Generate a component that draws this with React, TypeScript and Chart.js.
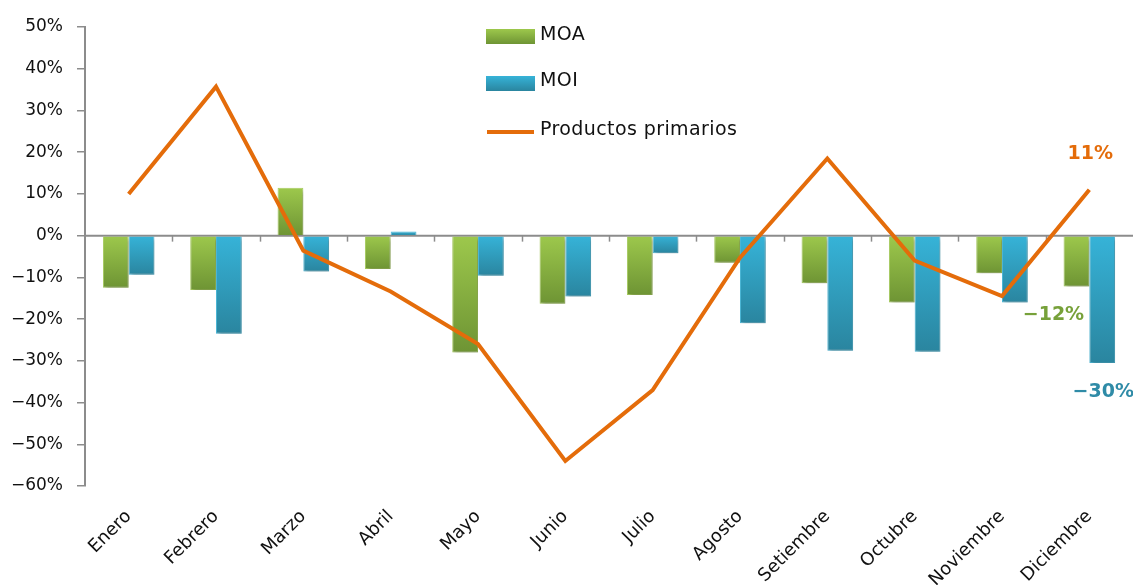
import React, { useEffect, useRef } from "react";
import { Chart, registerables } from "chart.js";

Chart.register(...registerables);

const categories = ["Enero", "Febrero", "Marzo", "Abril", "Mayo", "Junio", "Julio", "Agosto", "Setiembre", "Octubre", "Noviembre", "Diciembre"];
const moa = [-12.5, -13, 11.5, -8, -28, -16.3, -14.2, -6.5, -11.4, -16, -9, -12.2];
const moi = [-9.4, -23.5, -8.6, 1, -9.6, -14.6, -4.2, -21, -27.6, -27.8, -16, -30.5];
const primarios = [10, 35.7, -3.6, -13.4, -26, -54, -37, -5.3, 18.5, -6, -14.5, 11];
const seriesNames = ["MOA", "MOI", "Productos primarios"];
const yMin = -60;
const yMax = 50;
const yStep = 10;

const FONT = "'DejaVu Sans', sans-serif";
const GREEN_TOP = "#9dc84c";
const GREEN_BOT = "#6e9434";
const BLUE_TOP = "#36b3d8";
const BLUE_BOT = "#2a859f";
const ORANGE = "#e46c0a";
const AXIS = "#8c8c8c";

function barGradient(top: string, bot: string) {
  return (ctx: any) => {
    const chart = ctx.chart;
    const y = chart.scales && chart.scales.y;
    if (!chart.chartArea || !y || ctx.dataIndex === undefined) return top;
    const v = ctx.dataset.data[ctx.dataIndex];
    const p0 = y.getPixelForValue(Math.max(v, 0));
    const p1 = y.getPixelForValue(Math.min(v, 0));
    const g = chart.ctx.createLinearGradient(0, p0, 0, p1 + 0.01);
    g.addColorStop(0, top);
    g.addColorStop(1, bot);
    return g;
  };
}

const fmt = (v: number) => (v < 0 ? "\u2212" + Math.abs(v) : String(v)) + "%";

const shadowPlugin = {
  id: "barShadow",
  beforeDatasetDraw(chart: any, args: any) {
    if (args.meta.type === "bar") {
      const c = chart.ctx;
      c.save();
      c.shadowColor = "rgba(0,0,0,0.28)";
      c.shadowBlur = 4;
      c.shadowOffsetX = 2;
      c.shadowOffsetY = 3;
    }
  },
  afterDatasetDraw(chart: any, args: any) {
    if (args.meta.type === "bar") chart.ctx.restore();
  },
};

const zeroAxisPlugin = {
  id: "zeroAxis",
  beforeDatasetsDraw(chart: any) {
    const c = chart.ctx;
    const y0 = chart.scales.y.getPixelForValue(0);
    const { left, right } = chart.chartArea;
    c.save();
    c.strokeStyle = AXIS;
    c.lineWidth = 2;
    c.beginPath();
    c.moveTo(left, y0);
    c.lineTo(right, y0);
    c.stroke();
    c.lineWidth = 1.5;
    const n = categories.length;
    const w = (right - left) / n;
    for (let i = 1; i < n; i++) {
      const px = Math.round(left + i * w) + 0.5;
      c.beginPath();
      c.moveTo(px, y0);
      c.lineTo(px, y0 + 6);
      c.stroke();
    }
    c.restore();
  },
};

const legendPlugin = {
  id: "customLegend",
  afterDraw(chart: any) {
    const c = chart.ctx;
    c.save();
    const x = 486;
    const rows = [35, 81, 130];
    c.font = "19px " + FONT;
    try {
      (c as any).letterSpacing = "0.4px";
    } catch (e) {}
    c.textBaseline = "middle";
    let g = c.createLinearGradient(0, rows[0] - 6, 0, rows[0] + 9);
    g.addColorStop(0, GREEN_TOP);
    g.addColorStop(1, GREEN_BOT);
    c.fillStyle = g;
    c.fillRect(x, rows[0] - 6, 49, 15);
    g = c.createLinearGradient(0, rows[1] - 5, 0, rows[1] + 10);
    g.addColorStop(0, BLUE_TOP);
    g.addColorStop(1, BLUE_BOT);
    c.fillStyle = g;
    c.fillRect(x, rows[1] - 5, 49, 15);
    c.strokeStyle = ORANGE;
    c.lineWidth = 4;
    c.beginPath();
    c.moveTo(x + 1, rows[2] + 2);
    c.lineTo(x + 48, rows[2] + 2);
    c.stroke();
    c.fillStyle = "#111";
    seriesNames.forEach((n, i) => c.fillText(n, x + 54, rows[i]));
    c.restore();
  },
};

const annotationPlugin = {
  id: "endLabels",
  afterDraw(chart: any) {
    const c = chart.ctx;
    const last = categories.length - 1;
    const m0 = chart.getDatasetMeta(0).data[last];
    const m1 = chart.getDatasetMeta(1).data[last];
    const m2 = chart.getDatasetMeta(2).data[last];
    c.save();
    c.font = "bold 19px " + FONT;
    c.textAlign = "center";
    c.textBaseline = "middle";
    c.fillStyle = ORANGE;
    c.fillText(fmt(Math.round(primarios[last])), m2.x + 1, m2.y - 36);
    c.fillStyle = "#77a13a";
    c.fillText(fmt(Math.round(moa[last])), m0.x - 23, m0.y + 29);
    c.fillStyle = "#2f8ba7";
    c.fillText(fmt(Math.round(moi[last])), m1.x + 1, m1.y + 29);
    c.restore();
  },
};

export default function App() {
  const ref = useRef<HTMLCanvasElement>(null);
  useEffect(() => {
    document.body.style.margin = "0";
    const chart = new Chart(ref.current as HTMLCanvasElement, {
      type: "bar",
      data: {
        labels: categories,
        datasets: [
          {
            type: "bar",
            label: seriesNames[0],
            data: moa,
            backgroundColor: barGradient(GREEN_TOP, GREEN_BOT),
            borderColor: "#a9d05e",
            borderWidth: 1,
            categoryPercentage: 0.59,
            barPercentage: 1,
            order: 2,
          },
          {
            type: "bar",
            label: seriesNames[1],
            data: moi,
            backgroundColor: barGradient(BLUE_TOP, BLUE_BOT),
            borderColor: "#4dbbdb",
            borderWidth: 1,
            categoryPercentage: 0.59,
            barPercentage: 1,
            order: 2,
          },
          {
            type: "line",
            label: seriesNames[2],
            data: primarios,
            borderColor: ORANGE,
            borderWidth: 4,
            pointRadius: 0,
            tension: 0,
            fill: false,
            order: 1,
          } as any,
        ],
      },
      options: {
        responsive: false,
        animation: false,
        layout: { padding: { top: 27, right: 0, left: 0, bottom: 0 } },
        plugins: { legend: { display: false }, tooltip: { enabled: false } },
        scales: {
          x: {
            grid: { display: false },
            border: { display: false },
            ticks: {
              font: { family: FONT, size: 18 },
              color: "#111",
              maxRotation: 45,
              minRotation: 45,
              padding: 12,
              autoSkip: false,
            },
            afterFit: (s: any) => {
              s.height = 99;
            },
          },
          y: {
            min: yMin,
            max: yMax,
            border: { display: true, color: AXIS, width: 2 },
            grid: { display: true, drawOnChartArea: false, drawTicks: true, tickLength: 8, color: AXIS, lineWidth: 1.5 },
            ticks: {
              stepSize: yStep,
              font: { family: FONT, size: 17 },
              color: "#111",
              padding: 14,
              callback: (v: any) => fmt(Number(v)),
            },
            afterFit: (s: any) => {
              s.width = 85;
            },
          },
        },
      },
      plugins: [shadowPlugin, zeroAxisPlugin, legendPlugin, annotationPlugin],
    });
    return () => chart.destroy();
  }, []);
  return (
    <div style={{ position: "absolute", left: 0, top: 0, width: 1133, height: 585, background: "#fff" }}>
      <canvas ref={ref} width={1133} height={585} />
    </div>
  );
}
